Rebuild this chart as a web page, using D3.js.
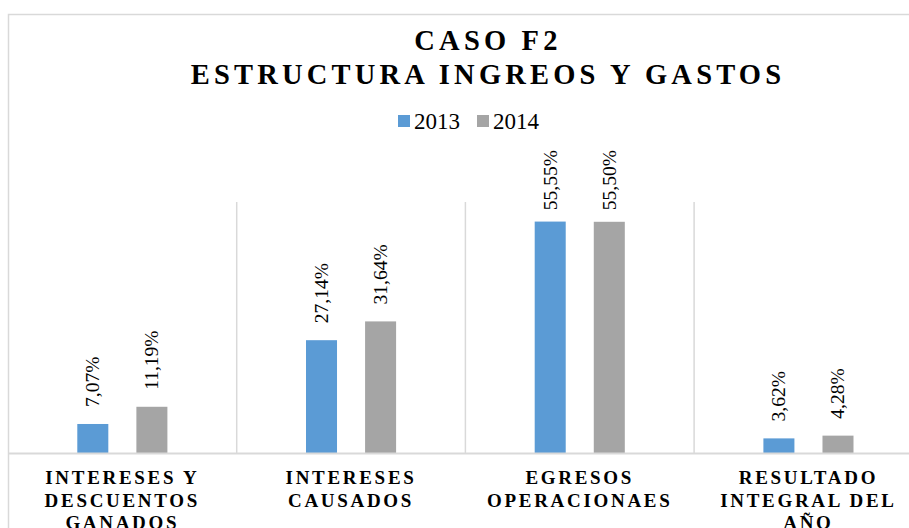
<!DOCTYPE html>
<html>
<head>
<meta charset="utf-8">
<script src="https://cdn.jsdelivr.net/npm/d3@7"></script>
<style>
  html, body { margin: 0; padding: 0; background: #ffffff; }
  svg { display: block; }
  text { font-family: "Liberation Serif", "Times New Roman", Times, serif; }
</style>
</head>
<body>
<svg id="chart" width="909" height="528"></svg>
<script>
// ---- data ----
const titleLines = ["CASO F2", "ESTRUCTURA INGREOS Y GASTOS"];
const categories = ["INTERESES Y DESCUENTOS GANADOS", "INTERESES CAUSADOS", "EGRESOS OPERACIONAES", "RESULTADO INTEGRAL DEL AÑO"];
const seriesNames = ["2013", "2014"];
const values2013 = [7.07, 27.14, 55.55, 3.62];
const values2014 = [11.19, 31.64, 55.50, 4.28];
const seriesColors = ["#5b9bd5", "#a5a5a5"];

const seriesValues = [values2013, values2014];
const data = categories.map((c, i) => ({
  cat: c,
  vals: seriesNames.map((s, j) => ({ series: s, value: seriesValues[j][i], color: seriesColors[j] }))
}));

const svg = d3.select("#chart");
const gridColor = "#d9d9d9";

// chart border (clipped on right/bottom like reference)
svg.append("rect")
  .attr("x", 8.5).attr("y", 14.5)
  .attr("width", 1200).attr("height", 1200)
  .attr("fill", "none").attr("stroke", gridColor).attr("stroke-width", 1.5);

// scales
const plotLeft = 8, bandW = 228.7, plotTop = 203, plotBottom = 453.5;
const x0 = d3.scaleBand().domain(categories).range([plotLeft, plotLeft + bandW * categories.length]).padding(0);
const x1 = d3.scaleBand().domain(seriesNames).range([69.3, bandW - 69.3]).paddingInner(0.475).paddingOuter(0);
const y = d3.scaleLinear().domain([0, 60]).range([plotBottom, plotTop]);

// category separators
categories.slice(1).forEach(c => {
  svg.append("line")
    .attr("x1", x0(c)).attr("x2", x0(c))
    .attr("y1", plotTop - 1).attr("y2", plotBottom)
    .attr("stroke", gridColor).attr("stroke-width", 1.5);
});

// bars
const groups = svg.selectAll("g.cat").data(data).join("g")
  .attr("class", "cat")
  .attr("transform", d => `translate(${x0(d.cat)},0)`);

groups.selectAll("rect").data(d => d.vals).join("rect")
  .attr("x", d => x1(d.series))
  .attr("width", x1.bandwidth())
  .attr("y", d => y(d.value))
  .attr("height", d => y(0) - y(d.value))
  .attr("fill", d => d.color);

// data labels (rotated)
const fmt = v => d3.format(".2f")(v).replace(".", ",") + "%";
groups.selectAll("text.lbl").data(d => d.vals).join("text")
  .attr("class", "lbl")
  .style("font-size", "19.5px")
  .attr("fill", "#000")
  .text(d => fmt(d.value))
  .each(function(d) {
    const len = this.getComputedTextLength();
    let yy = y(d.value) - 17;
    if (yy - len < 150) yy = 150 + len;
    const cx = x1(d.series) + x1.bandwidth() / 2;
    d3.select(this)
      .attr("text-anchor", "start")
      .attr("dy", "0.33em")
      .attr("transform", `translate(${cx},${yy}) rotate(-90)`);
  });

// axis line
svg.append("line")
  .attr("x1", plotLeft).attr("x2", 909)
  .attr("y1", plotBottom).attr("y2", plotBottom)
  .attr("stroke", gridColor).attr("stroke-width", 2);

// category labels with wrapping
const catG = svg.append("g");
categories.forEach(c => {
  const t = catG.append("text")
    .attr("x", x0(c) + x0.bandwidth() / 2)
    .attr("y", 484)
    .attr("text-anchor", "middle")
    .style("font-size", "19px")
    .style("font-weight", "bold")
    .style("letter-spacing", "2.7px")
    .attr("fill", "#000");
  const words = c.split(" ");
  let lines = [], cur = [];
  const probe = t.append("tspan");
  words.forEach(w => {
    const test = cur.concat([w]).join(" ");
    probe.text(test);
    if (probe.node().getComputedTextLength() > 200 && cur.length) {
      lines.push(cur.join(" "));
      cur = [w];
    } else cur.push(w);
  });
  lines.push(cur.join(" "));
  probe.remove();
  lines.forEach((ln, i) => {
    t.append("tspan")
      .attr("x", x0(c) + x0.bandwidth() / 2)
      .attr("dy", i === 0 ? 0 : 22.5)
      .text(ln);
  });
});

// title
const titleBaselines = [50, 84.3];
titleLines.forEach((tl, i) => {
  svg.append("text")
    .attr("x", 486 + 2)
    .attr("y", titleBaselines[i])
    .attr("text-anchor", "middle")
    .style("font-size", "28.5px")
    .style("font-weight", "bold")
    .style("letter-spacing", "4.2px")
    .attr("fill", "#000")
    .text(tl);
});

// legend
const legendX = [398, 477];
seriesNames.forEach((s, i) => {
  svg.append("rect")
    .attr("x", legendX[i]).attr("y", 115)
    .attr("width", 12).attr("height", 12)
    .attr("fill", seriesColors[i]);
  svg.append("text")
    .attr("x", legendX[i] + 16).attr("y", 129)
    .style("font-size", "23px")
    .attr("fill", "#000")
    .text(s);
});
</script>
</body>
</html>
